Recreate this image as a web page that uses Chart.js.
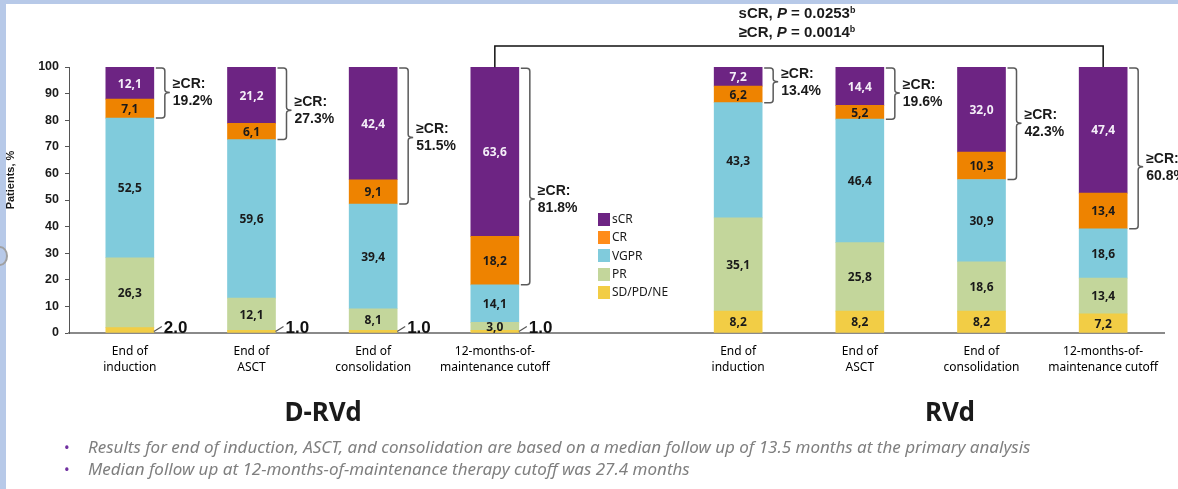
<!DOCTYPE html>
<html>
<head>
<meta charset="utf-8">
<script src="https://cdn.jsdelivr.net/npm/chart.js@4/dist/chart.umd.min.js"></script>
<style>
  html, body { margin: 0; padding: 0; background: #fff; }
  #page { position: relative; width: 1178px; height: 489px; overflow: hidden; background: #fff; }
  #edgeTop { position: absolute; left: 0; top: 0; width: 1178px; height: 4px; background: #b7c9e8; }
  #edgeLeft { position: absolute; left: 0; top: 0; width: 6px; height: 489px; background: #b7c9e8; }
  #knob { position: absolute; left: -8px; top: 246px; width: 12px; height: 16px; border: 2px solid #a0a0a0; border-radius: 50%; }
  canvas { position: absolute; left: 0; top: 0; }
  .txt { position: absolute; white-space: nowrap; color: #1a1a1a; }
  #pvals { left: 597px; top: 3px; width: 400px; text-align: center; font: bold 15px "Liberation Sans", Arial, sans-serif; line-height: 19px; }
  #pvals sup { font-size: 9px; vertical-align: 5px; line-height: 0; }
  .group { font: bold 26px "Noto Sans", sans-serif; line-height: 30px; top: 396px; width: 200px; text-align: center; }
  #legend { position: absolute; left: 598px; top: 210px; font: 12px "Noto Sans", sans-serif; color: #1a1a1a; }
  #legend div { height: 18.3px; line-height: 18px; display: flex; align-items: center; }
  #legend span { display: inline-block; width: 12px; height: 13px; margin-right: 2px; }
  .note { left: 64px; font: italic 17px "Noto Sans", sans-serif; color: #7f7f7f; line-height: 22px; }
  .note b { color: #7030a0; font-style: normal; font-weight: normal; font-size: 15px; display: inline-block; width: 24px; }
</style>
</head>
<body>
<div id="page">
  <canvas id="myChart" width="1178" height="489"></canvas>
  <div id="edgeTop"></div>
  <div id="edgeLeft"></div>
  <div id="knob"></div>
  <div id="pvals" class="txt">sCR, <i>P</i> = 0.0253<sup>b</sup><br>≥CR, <i>P</i> = 0.0014<sup>b</sup></div>
  <div class="txt group" style="left:223px">D-RVd</div>
  <div class="txt group" style="left:850px">RVd</div>
  <div id="legend"></div>
  <div class="txt note" style="top:436px"><b>•</b>Results for end of induction, ASCT, and consolidation are based on a median follow up of 13.5 months at the primary analysis</div>
  <div class="txt note" style="top:458px"><b>•</b>Median follow up at 12-months-of-maintenance therapy cutoff was 27.4 months</div>
</div>
<script>
// Time points: D-RVd arm, an empty gap slot, then RVd arm
let categories = [
  ["End of", "induction"],
  ["End of", "ASCT"],
  ["End of", "consolidation"],
  ["12-months-of-", "maintenance cutoff"],
  "",
  ["End of", "induction"],
  ["End of", "ASCT"],
  ["End of", "consolidation"],
  ["12-months-of-", "maintenance cutoff"],
];
// Response rates in %, bottom segment first
let sdValues   = [2.0, 1.0, 1.0, 1.0, null, 8.2, 8.2, 8.2, 7.2];
let prValues   = [26.3, 12.1, 8.1, 3.0, null, 35.1, 25.8, 18.6, 13.4];
let vgprValues = [52.5, 59.6, 39.4, 14.1, null, 43.3, 46.4, 30.9, 18.6];
let crValues   = [7.1, 6.1, 9.1, 18.2, null, 6.2, 5.2, 10.3, 13.4];
let scrValues  = [12.1, 21.2, 42.4, 63.6, null, 7.2, 14.4, 32.0, 47.4];
let yTicks = [0, 10, 20, 30, 40, 50, 60, 70, 80, 90, 100];

let seriesNames = ["SD/PD/NE", "PR", "VGPR", "CR", "sCR"];
let seriesColors = ["#f2cd45", "#c3d69b", "#80cbdc", "#ee8300", "#6d2483"];
let legendColors = ["#f2cd45", "#c3d69b", "#80cbdc", "#ff8c1a", "#6d2483"];
let labelColors = ["#1a1a1a", "#1a1a1a", "#1a1a1a", "#1a1a1a", "#f4eef8"];

// vertical shift (px) of each >=CR label and bracket tip
let bracketNudge = [0, 7, 2, 23, 0, -3, 0, 0, 19];
// bars joined by the p-value connector
let compareBars = [3, 8];

let fmt = v => v.toFixed(1).replace(".", ",");

// legend, top entry first
let legendEl = document.getElementById("legend");
for (let i = seriesNames.length - 1; i >= 0; i--) {
  let row = document.createElement("div");
  row.innerHTML = '<span style="background:' + legendColors[i] + '"></span>' + seriesNames[i];
  legendEl.appendChild(row);
}

let allSeries = [sdValues, prValues, vgprValues, crValues, scrValues];

// value labels, small-value callouts, >=CR brackets and the p-value connector
let annotations = {
  id: "annotations",
  afterDatasetsDraw(chart) {
    let ctx = chart.ctx;
    let metas = allSeries.map((s, i) => chart.getDatasetMeta(i));
    ctx.save();

    // y axis title, sits a little above the axis middle
    ctx.save();
    ctx.translate(11, 180);
    ctx.rotate(-Math.PI / 2);
    ctx.fillStyle = "#1a1a1a";
    ctx.font = "bold 11px 'Liberation Sans', Arial, sans-serif";
    ctx.textAlign = "center";
    ctx.textBaseline = "middle";
    ctx.fillText("Patients, %", 0, 0);
    ctx.restore();

    // segment values
    metas.forEach((meta, d) => {
      meta.data.forEach((bar, i) => {
        let v = allSeries[d][i];
        if (v == null) return;
        let half = bar.width / 2;
        if (v < 2.5) {
          ctx.strokeStyle = "#555";
          ctx.lineWidth = 1.2;
          ctx.beginPath();
          ctx.moveTo(bar.x + half, bar.base - 1);
          ctx.lineTo(bar.x + half + 8, bar.base - 6);
          ctx.stroke();
          ctx.fillStyle = "#111";
          ctx.font = "bold 17px 'Liberation Sans', Arial, sans-serif";
          ctx.textAlign = "left";
          ctx.textBaseline = "alphabetic";
          ctx.fillText(v.toFixed(1), bar.x + half + 10, bar.base);
          return;
        }
        ctx.fillStyle = labelColors[d];
        ctx.font = "bold 12px 'Noto Sans', sans-serif";
        ctx.textAlign = "center";
        ctx.textBaseline = "middle";
        ctx.fillText(fmt(v), bar.x, (bar.y + bar.base) / 2 + 1);
      });
    });

    // >=CR braces
    let crMeta = metas[3], scrMeta = metas[4];
    scrMeta.data.forEach((bar, i) => {
      if (scrValues[i] == null) return;
      let top = bar.y;
      let bottom = crMeta.data[i].base;
      let x0 = bar.x + bar.width / 2 + 2;
      let x1 = x0 + 9;
      let mid = (top + bottom) / 2 + bracketNudge[i];
      ctx.strokeStyle = "#5a5a5a";
      ctx.lineWidth = 1.5;
      ctx.beginPath();
      ctx.moveTo(x0, top + 1);
      ctx.lineTo(x1 - 3, top + 1);
      ctx.quadraticCurveTo(x1, top + 1, x1, top + 4);
      ctx.lineTo(x1, mid - 3);
      ctx.quadraticCurveTo(x1, mid, x1 + 5, mid);
      ctx.moveTo(x1 + 5, mid);
      ctx.quadraticCurveTo(x1, mid, x1, mid + 3);
      ctx.lineTo(x1, bottom - 3);
      ctx.quadraticCurveTo(x1, bottom, x1 - 3, bottom);
      ctx.lineTo(x0, bottom);
      ctx.stroke();

      let total = scrValues[i] + crValues[i];
      ctx.fillStyle = "#1a1a1a";
      ctx.font = "bold 14px 'Liberation Sans', Arial, sans-serif";
      ctx.textAlign = "left";
      ctx.textBaseline = "middle";
      ctx.fillText("≥CR:", x1 + 8, mid - 8);
      ctx.fillText(total.toFixed(1) + "%", x1 + 8, mid + 9);
    });

    // connector between the two maintenance bars
    let a = scrMeta.data[compareBars[0]], b = scrMeta.data[compareBars[1]];
    let lineY = 46;
    ctx.strokeStyle = "#111";
    ctx.lineWidth = 1.5;
    ctx.beginPath();
    ctx.moveTo(a.x, a.y);
    ctx.lineTo(a.x, lineY);
    ctx.lineTo(b.x, lineY);
    ctx.lineTo(b.x, b.y);
    ctx.stroke();
    ctx.restore();
  }
};

let ctx = document.getElementById("myChart").getContext("2d");
let myChart = new Chart(ctx, {
  type: "bar",
  data: {
    labels: categories,
    datasets: allSeries.map((values, i) => ({
      label: seriesNames[i],
      data: values,
      backgroundColor: seriesColors[i],
      borderWidth: 0,
      barThickness: 48,
    })),
  },
  options: {
    responsive: false,
    animation: false,
    layout: { padding: { top: 67, right: 14, bottom: 106, left: 0 } },
    plugins: {
      legend: { display: false },
      tooltip: { enabled: false },
    },
    scales: {
      x: {
        stacked: true,
        grid: { display: false },
        border: { color: "#8a8a8a", width: 2 },
        ticks: {
          padding: 3,
          color: "#000",
          font: { family: "'Noto Sans', sans-serif", size: 12, lineHeight: 1.3 },
          maxRotation: 0,
          autoSkip: false,
        },
        afterFit(scale) { scale.height = 50; },
      },
      y: {
        stacked: true,
        min: 0,
        max: 100,
        afterBuildTicks(scale) { scale.ticks = yTicks.map(v => ({ value: v })); },
        grid: { drawOnChartArea: false, drawTicks: true, tickLength: 4, color: "#555" },
        border: { color: "#555", width: 1 },
        ticks: {
          padding: 6,
          color: "#1a1a1a",
          font: { family: "'Liberation Sans', Arial, sans-serif", size: 12.5, weight: "bold" },
        },
        afterFit(scale) { scale.width = 69; },
      },
    },
  },
  plugins: [annotations],
});
</script>
</body>
</html>
